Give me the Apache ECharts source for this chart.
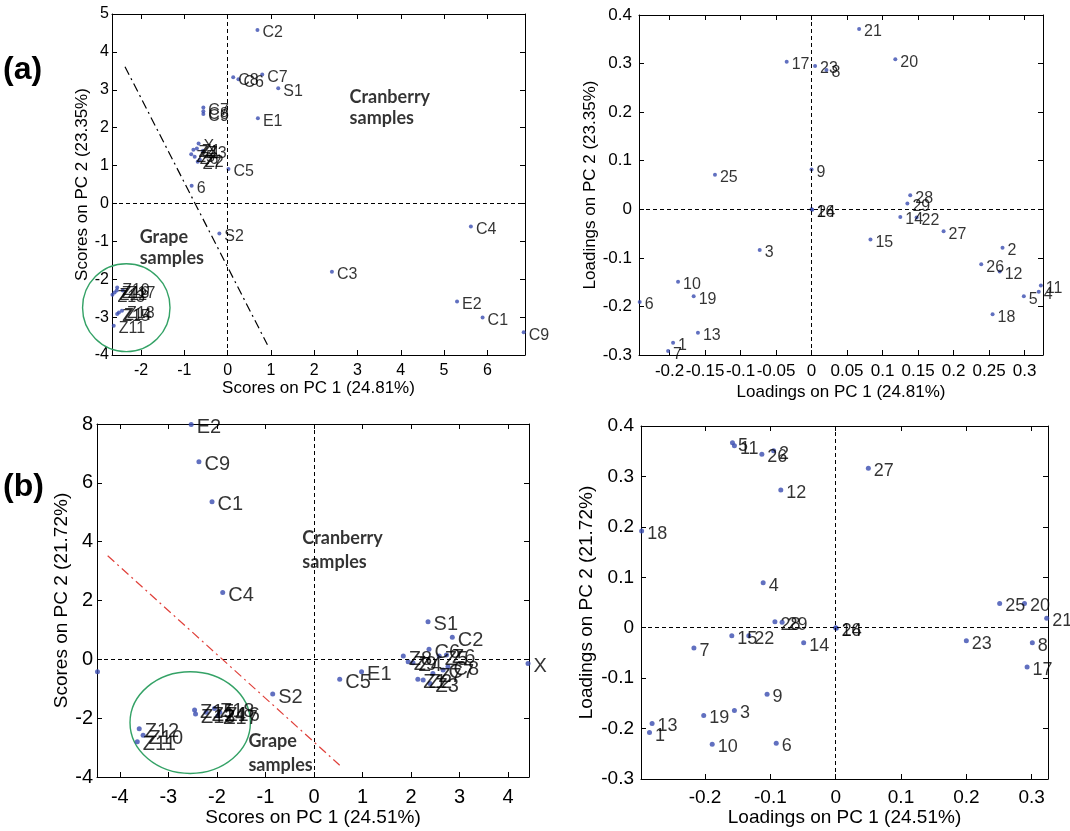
<!DOCTYPE html>
<html>
<head>
<meta charset="utf-8">
<title>PCA scores and loadings</title>
<script src="https://cdn.jsdelivr.net/npm/echarts@6/dist/echarts.min.js"></script>
<style>
  html, body { margin: 0; padding: 0; background: #fff; }
  #chart { width: 1070px; height: 831px; }
</style>
</head>
<body>
<div id="chart"></div>
<script>
// (a) scores: [label, PC1, PC2]
const scoresA = [
  ['C2', 0.69, 4.58], ['C8', 0.13, 3.33], ['C6', 0.25, 3.28], ['C7', 0.80, 3.40],
  ['S1', 1.17, 3.04], ['E1', 0.70, 2.25],
  ['C7', -0.56, 2.53], ['C8', -0.56, 2.43], ['C9', -0.56, 2.36],
  ['X', -0.67, 1.58], ['Z1', -0.71, 1.45], ['Z3', -0.57, 1.39], ['Z4', -0.79, 1.42],
  ['Z5', -0.84, 1.30], ['Z6', -0.76, 1.23], ['Z2', -0.64, 1.15], ['Z7', -0.69, 1.10],
  ['6', -0.83, 0.47], ['C5', 0.02, 0.91], ['S2', -0.19, -0.79],
  ['C4', 5.62, -0.61], ['C3', 2.41, -1.80], ['E2', 5.30, -2.59], ['C1', 5.89, -3.01], ['C9', 6.84, -3.40],
  ['Z10', -2.55, -2.22], ['Z12', -2.61, -2.35], ['Z13', -2.66, -2.41], ['Z16', -2.56, -2.30],
  ['Z17', -2.42, -2.30], ['Z14', -2.51, -2.88], ['Z18', -2.44, -2.83], ['Z15', -2.55, -2.92],
  ['Z11', -2.63, -3.23]
];
// (a) loadings
const loadingsA = [
  ['21', 0.067, 0.371], ['17', -0.035, 0.304], ['23', 0.005, 0.295], ['8', 0.021, 0.287],
  ['20', 0.118, 0.309], ['9', 0.000, 0.082], ['25', -0.136, 0.071], ['28', 0.139, 0.029],
  ['29', 0.135, 0.012], ['16', 0.000, 0.000], ['24', 0.001, -0.001], ['14', 0.125, -0.016],
  ['22', 0.148, -0.017], ['27', 0.186, -0.045], ['15', 0.083, -0.062], ['2', 0.269, -0.079],
  ['26', 0.239, -0.113], ['12', 0.265, -0.128], ['11', 0.323, -0.157], ['4', 0.320, -0.170],
  ['5', 0.299, -0.179], ['18', 0.255, -0.216], ['3', -0.073, -0.084], ['10', -0.188, -0.149],
  ['19', -0.166, -0.179], ['6', -0.242, -0.191], ['13', -0.160, -0.254], ['1', -0.195, -0.275],
  ['7', -0.202, -0.292]
];
// (b) scores
const scoresB = [
  ['E2', -2.53, 7.98], ['C9', -2.37, 6.72], ['C1', -2.10, 5.36], ['C4', -1.88, 2.27],
  ['S1', 2.35, 1.28], ['C6', 2.37, 0.34], ['C2', 2.85, 0.75], ['Z8', 1.84, 0.11],
  ['Z9', 1.94, -0.08], ['Z4', 2.04, -0.12], ['Z5', 2.58, 0.11], ['Z6', 2.73, 0.15],
  ['Z7', 2.45, -0.48], ['C7', 2.66, -0.36], ['C8', 2.76, -0.25], ['Z1', 2.14, -0.68],
  ['Z2', 2.25, -0.70], ['Z3', 2.39, -0.82], ['X', 4.41, -0.14], ['E1', 0.98, -0.42],
  ['C5', 0.53, -0.68], ['S2', -0.85, -1.18], ['', -4.46, -0.42],
  ['Z15', -2.46, -1.72], ['Z18', -2.05, -1.67], ['Z16', -1.94, -1.80], ['Z13', -2.44, -1.86],
  ['Z14', -2.22, -1.80], ['Z17', -1.98, -1.92],
  ['Z12', -3.60, -2.36], ['Z10', -3.52, -2.58], ['Z11', -3.64, -2.80]
];
// (b) loadings
const loadingsB = [
  ['5', -0.158, 0.367], ['11', -0.155, 0.361], ['26', -0.113, 0.344], ['2', -0.095, 0.351],
  ['27', 0.050, 0.316], ['12', -0.084, 0.273], ['18', -0.297, 0.192], ['4', -0.111, 0.089],
  ['25', 0.251, 0.048], ['20', 0.289, 0.048], ['21', 0.323, 0.019], ['28', -0.093, 0.012],
  ['29', -0.082, 0.011], ['16', 0.000, 0.000], ['24', 0.001, -0.001], ['15', -0.159, -0.016],
  ['22', -0.133, -0.016], ['14', -0.049, -0.030], ['7', -0.217, -0.040], ['23', 0.200, -0.026],
  ['8', 0.301, -0.030], ['17', 0.293, -0.078], ['9', -0.105, -0.132], ['3', -0.155, -0.164],
  ['19', -0.202, -0.174], ['13', -0.281, -0.190], ['1', -0.285, -0.208], ['10', -0.189, -0.231],
  ['6', -0.091, -0.229]
];
// class boundary lines [x1, y1, x2, y2] and grape rings [cx, cy, rx, ry], axis units
const splitA = [-2.37, 3.61, 0.92, -3.73];
const splitB = [-4.25, 3.52, 0.53, -3.60];
const ringA = [-2.34, -2.75, 1.01, 1.16];
const ringB = [-2.55, -2.15, 1.24, 1.73];
// group captions [text, x, y]
const notesA = [['Cranberry\nsamples', 2.83, 3.07], ['Grape\nsamples', -2.02, -0.63]];
const notesB = [['Cranberry\nsamples', -0.23, 4.50], ['Grape\nsamples', -1.34, -2.40]];

const FONT = 'Liberation Sans, Arial, sans-serif';
const DOT = '#3a4cb0';

const panels = [
  {data: scoresA, split: splitA, splitColor: '#000', ring: ringA, notes: notesA,
   grid: {left: 112, top: 14, width: 413, height: 341},
   x: {min: -2.67, max: 6.87, step: 1, name: 'Scores on PC 1 (24.81%)', gap: 22, margin: 8},
   y: {min: -4, max: 5, step: 1, name: 'Scores on PC 2 (23.35%)', gap: 18, margin: 3},
   tick: 16, title: 17, label: 16, dot: 4, noteLine: 21},
  {data: loadingsA,
   grid: {left: 639, top: 15, width: 404, height: 340},
   x: {min: -0.243, max: 0.326, step: 0.05, name: 'Loadings on PC 1 (24.81%)', gap: 29, margin: 8},
   y: {min: -0.3, max: 0.4, step: 0.1, name: 'Loadings on PC 2 (23.35%)', gap: 36, margin: 7},
   tick: 17, title: 17, label: 16, dot: 4},
  {data: scoresB, split: splitB, splitColor: '#e0403a', ring: ringB, notes: notesB,
   grid: {left: 97, top: 424, width: 432, height: 353},
   x: {min: -4.47, max: 4.43, step: 1, name: 'Scores on PC 1 (24.51%)', gap: 31, margin: 10},
   y: {min: -4, max: 8, step: 2, name: 'Scores on PC 2 (21.72%)', gap: 21, margin: 4},
   tick: 20, title: 19, label: 20, dot: 5, noteLine: 24},
  {data: loadingsB,
   grid: {left: 641, top: 426, width: 407, height: 353},
   x: {min: -0.298, max: 0.325, step: 0.1, name: 'Loadings on PC 1 (24.51%)', gap: 27, margin: 9},
   y: {min: -0.3, max: 0.4, step: 0.1, name: 'Loadings on PC 2 (21.72%)', gap: 45, margin: 7},
   tick: 19, title: 19, label: 18, dot: 5}
];

function onStep(v, step) {
  return Math.abs(v / step - Math.round(v / step)) < 1e-6;
}

function makeAxis(p, i, dim, pos, main) {
  const a = p[dim];
  return {
    type: 'value', gridIndex: i, position: pos,
    min: a.min, max: a.max, minInterval: a.step, maxInterval: a.step, splitNumber: 40,
    name: main ? a.name : '', nameLocation: 'middle', nameGap: a.gap,
    nameTextStyle: {fontFamily: FONT, fontSize: p.title, color: '#000'},
    axisLine: {show: true, onZero: false, lineStyle: {color: '#000', width: 1}},
    axisTick: {show: true, inside: true, length: 5, lineStyle: {color: '#000'}},
    splitLine: {show: false},
    axisLabel: {
      show: main, margin: a.margin, interval: 0,
      fontFamily: FONT, fontSize: p.tick, color: '#000',
      showMinLabel: onStep(a.min, a.step), showMaxLabel: onStep(a.max, a.step)
    }
  };
}

const grids = [], xAxes = [], yAxes = [], series = [];

panels.forEach(function (p, i) {
  grids.push(Object.assign({containLabel: false}, p.grid));
  xAxes.push(makeAxis(p, i, 'x', 'bottom', true), makeAxis(p, i, 'x', 'top', false));
  yAxes.push(makeAxis(p, i, 'y', 'left', true), makeAxis(p, i, 'y', 'right', false));
  const ax = {xAxisIndex: 2 * i, yAxisIndex: 2 * i};

  const lines = [
    {xAxis: 0, lineStyle: {type: [4, 3], color: '#000', width: 1}},
    {yAxis: 0, lineStyle: {type: [4, 3], color: '#000', width: 1}}
  ];
  if (p.split) {
    const s = p.split;
    const style = {type: [9, 4, 2, 4], color: p.splitColor, width: 1.2};
    lines.push([{coord: [s[0], s[1]], lineStyle: style}, {coord: [s[2], s[3]], lineStyle: style}]);
  }

  series.push(Object.assign({
    type: 'scatter', symbolSize: p.dot, itemStyle: {color: DOT},
    data: p.data.map(function (d) { return {name: d[0], value: [d[1], d[2]]}; }),
    label: {
      show: true, formatter: '{b}', position: 'right', distance: 3, offset: [0, 3],
      fontFamily: FONT, fontSize: p.label, color: '#000'
    },
    markLine: {silent: true, symbol: ['none', 'none'], label: {show: false}, data: lines},
    silent: true
  }, ax));

  if (p.ring) {
    series.push(Object.assign({
      type: 'custom', data: [p.ring], silent: true, clip: false,
      renderItem: function (params, api) {
        const c = api.coord([api.value(0), api.value(1)]);
        const r = api.size([api.value(2), api.value(3)]);
        return {
          type: 'ellipse',
          shape: {cx: c[0], cy: c[1], rx: r[0], ry: r[1]},
          style: {fill: 'none', stroke: '#34a266', lineWidth: 1.4}
        };
      }
    }, ax));
  }

  if (p.notes) {
    series.push(Object.assign({
      type: 'scatter', symbolSize: 1, itemStyle: {color: 'transparent'}, silent: true,
      data: p.notes.map(function (d) { return {name: d[0], value: [d[1], d[2]]}; }),
      label: {
        show: true, formatter: '{b}', position: [0, 0],
        fontFamily: 'Lato, Open Sans, sans-serif', fontWeight: 'bold',
        fontSize: 18, lineHeight: p.noteLine, color: '#000'
      }
    }, ax));
  }
});

const chart = echarts.init(document.getElementById('chart'));
chart.setOption({
  animation: false,
  backgroundColor: '#fff',
  grid: grids,
  xAxis: xAxes,
  yAxis: yAxes,
  series: series,
  graphic: [
    {type: 'text', left: 3, top: 54, style: {text: '(a)', fontFamily: FONT, fontWeight: 'bold', fontSize: 32, fill: '#000'}},
    {type: 'text', left: 3, top: 471, style: {text: '(b)', fontFamily: FONT, fontWeight: 'bold', fontSize: 32, fill: '#000'}}
  ]
});
</script>
</body>
</html>
